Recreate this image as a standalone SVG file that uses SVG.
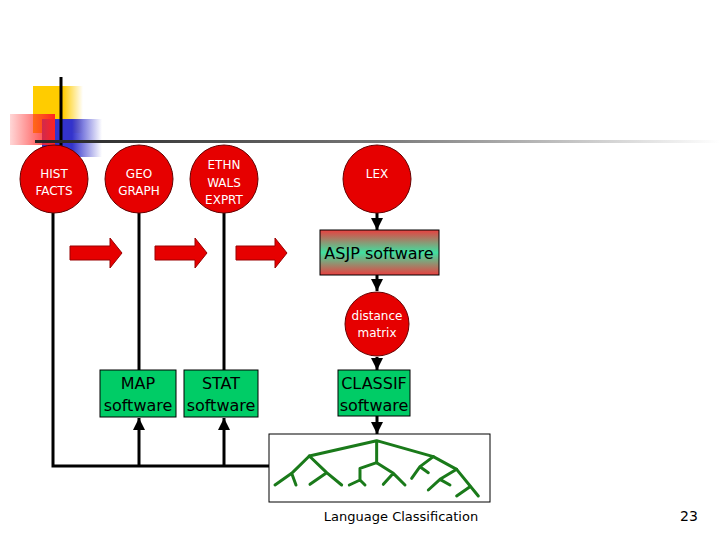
<svg xmlns="http://www.w3.org/2000/svg" width="720" height="540" viewBox="0 0 720 540">
<defs>
<linearGradient id="yel" x1="0" x2="1"><stop offset="0.6" stop-color="#ffcc00"/><stop offset="1" stop-color="#ffcc00" stop-opacity="0"/></linearGradient>
<linearGradient id="blu" x1="0" x2="1"><stop offset="0.5" stop-color="#3333cc"/><stop offset="1" stop-color="#3333cc" stop-opacity="0"/></linearGradient>
<linearGradient id="red" x1="0" x2="1"><stop offset="0" stop-color="#ff3333" stop-opacity="0.2"/><stop offset="1" stop-color="#ff2222"/></linearGradient>
<linearGradient id="hl" x1="0" x2="1"><stop offset="0" stop-color="#222"/><stop offset="0.5" stop-color="#777"/><stop offset="1" stop-color="#fff"/></linearGradient>
<linearGradient id="asjp" x1="0" y1="0" x2="0" y2="1"><stop offset="0" stop-color="#e84040"/><stop offset="0.5" stop-color="#40e0a0"/><stop offset="1" stop-color="#e84040"/></linearGradient>
<marker id="ah" viewBox="0 0 10 10" refX="10" refY="5" markerWidth="4" markerHeight="4" orient="auto"><path d="M0,0L10,5L0,10z" fill="#000"/></marker>
<style>
.c{fill:#e60000;stroke:#600;stroke-width:1}
.ct{font-family:"DejaVu Sans",sans-serif;font-size:12px;fill:#fff;text-anchor:middle}
.b{fill:#00cc66;stroke:#000;stroke-width:1}
.bt{font-family:"DejaVu Sans",sans-serif;font-size:16px;fill:#000;text-anchor:middle}
.ln{stroke:#000;stroke-width:3;fill:none}
.ra{fill:#e60000;stroke:#900;stroke-width:1}
.tr{stroke:#1a7a1a;stroke-width:9;fill:none;stroke-linecap:round;stroke-linejoin:round}
</style>
</defs>
<g id="deco">
<rect x="33" y="86" width="50" height="47" fill="url(#yel)"/>
<rect x="42" y="119" width="60" height="38" fill="url(#blu)"/>
<rect x="10" y="114" width="45" height="31" fill="url(#red)"/>
<line x1="61" y1="77" x2="61" y2="150" stroke="#000" stroke-width="3"/>
<rect x="35" y="140" width="685" height="3" fill="url(#hl)"/>
</g>
<g id="connectors">
<polyline class="ln" points="53,213 53,466 269,466"/>
<line class="ln" x1="139" y1="213" x2="139" y2="370"/>
<line class="ln" x1="224" y1="213" x2="224" y2="370"/>
<line class="ln" x1="139" y1="466" x2="139" y2="418" marker-end="url(#ah)"/>
<line class="ln" x1="224" y1="466" x2="224" y2="418" marker-end="url(#ah)"/>
<line class="ln" x1="377" y1="213" x2="377" y2="230" marker-end="url(#ah)"/>
<line class="ln" x1="377" y1="275" x2="377" y2="291" marker-end="url(#ah)"/>
<line class="ln" x1="377" y1="357" x2="377" y2="370" marker-end="url(#ah)"/>
<line class="ln" x1="377" y1="416" x2="377" y2="434" marker-end="url(#ah)"/>
</g>
<g id="arrows">
<path class="ra" d="M70,246H110V238L122,253L110,268V260H70Z"/>
<path class="ra" d="M155,246H195V238L207,253L195,268V260H155Z"/>
<path class="ra" d="M236,246H275V238L287,253L275,268V260H236Z"/>
</g>
<g id="hist"><ellipse class="c" cx="54" cy="179" rx="34" ry="34"/><text class="ct" x="54" y="178">HIST</text><text class="ct" x="54" y="195">FACTS</text></g>
<g id="geo"><ellipse class="c" cx="139" cy="179" rx="34" ry="34"/><text class="ct" x="139" y="178">GEO</text><text class="ct" x="139" y="195">GRAPH</text></g>
<g id="ethn"><ellipse class="c" cx="224" cy="179" rx="34" ry="34"/><text class="ct" x="224" y="169">ETHN</text><text class="ct" x="224" y="187">WALS</text><text class="ct" x="224" y="204">EXPRT</text></g>
<g id="lex"><ellipse class="c" cx="377" cy="179" rx="34" ry="34"/><text class="ct" x="377" y="178">LEX</text></g>
<g id="asjp"><rect x="320" y="230" width="119" height="45" fill="url(#asjp)" stroke="#000"/><text class="bt" x="379" y="259">ASJP software</text></g>
<g id="dist"><ellipse class="c" cx="377" cy="324" rx="32" ry="32"/><text class="ct" x="377" y="320">distance</text><text class="ct" x="377" y="337">matrix</text></g>
<g id="map"><rect class="b" x="100" y="370" width="76" height="47"/><text class="bt" x="138" y="389">MAP</text><text class="bt" x="138" y="411">software</text></g>
<g id="stat"><rect class="b" x="184" y="370" width="74" height="47"/><text class="bt" x="221" y="389">STAT</text><text class="bt" x="221" y="411">software</text></g>
<g id="classif"><rect class="b" x="338" y="370" width="72" height="46"/><text class="bt" x="374" y="389">CLASSIF</text><text class="bt" x="374" y="411">software</text></g>
<g id="tree">
<rect x="269" y="434" width="221" height="68" fill="#fff" stroke="#000"/>
<g transform="translate(260,420) scale(0.3333)" class="tr">
<path d="M350,62L148,108M350,62L520,110L590,148L655,228M350,62V128"/>
<path d="M148,108L95,160L45,195M95,160L108,195M148,108L200,158L245,195M200,158L150,193"/>
<path d="M350,128L300,145V180L268,195M300,180L315,195M350,128L400,160L435,195M400,160L370,193"/>
<path d="M520,110L480,140L455,175M480,140L505,158M590,148L540,178L505,210M540,178L570,195M630,200L590,228"/>
</g>
<text x="401" y="521" font-family="DejaVu Sans, sans-serif" font-size="13" text-anchor="middle">Language Classification</text>
</g>
<text x="689" y="521" font-family="DejaVu Sans, sans-serif" font-size="14" text-anchor="middle">23</text>
</svg>
